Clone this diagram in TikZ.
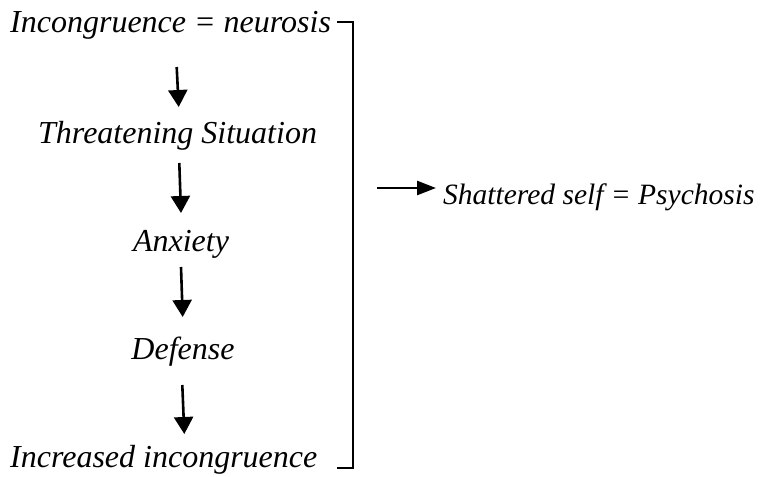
\documentclass[tikz,border=0pt]{standalone}
\usepackage{fontspec}
\setmainfont{Liberation Serif}
\usetikzlibrary{arrows.meta}
\begin{document}
\begin{tikzpicture}[x=1pt,y=-1pt,
  lbl/.style={anchor=base west,inner sep=0pt,font=\fontsize{32}{38}\selectfont\itshape},
  clbl/.style={lbl,anchor=base},
  downarrow/.style={line width=2.6pt,-{Triangle[length=17pt,width=19pt]}},
  rightarrow/.style={line width=2.6pt,-{Triangle[length=19pt,width=14pt]}},
  bracket/.style={line width=2.2pt}]
\useasboundingbox (0,0) rectangle (764,477);
\node[lbl] (n1) at (10,32) {Incongruence = neurosis};
\node[lbl] (n2) at (38,143) {Threatening Situation};
\node[clbl] (n3) at (181,251) {Anxiety};
\node[clbl] (n4) at (183,359) {Defense};
\node[lbl] (n5) at (10,467) {Increased incongruence};
\node[lbl,font=\fontsize{29.5}{35}\selectfont\itshape] (n6) at (443,204) {Shattered self = Psychosis};
\coordinate (a1s) at (176.7,67);
\coordinate (a1e) at (178.7,107);
\coordinate (a2s) at (179.3,163);
\coordinate (a2e) at (181,213);
\coordinate (a3s) at (181,267);
\coordinate (a3e) at (182.7,317);
\coordinate (a4s) at (182.3,385);
\coordinate (a4e) at (184.3,434);
\coordinate (bt) at (337,22);
\coordinate (btr) at (353,22);
\coordinate (bbr) at (353,468);
\coordinate (bb) at (337,468);
\coordinate (rs) at (377,188);
\coordinate (re) at (436,188);
\draw[downarrow] (a1s) -- (a1e);
\draw[downarrow] (a2s) -- (a2e);
\draw[downarrow] (a3s) -- (a3e);
\draw[downarrow] (a4s) -- (a4e);
\draw[bracket] (bt) -- (btr) -- (bbr) -- (bb);
\draw[rightarrow] (rs) -- (re);
\end{tikzpicture}
\end{document}
